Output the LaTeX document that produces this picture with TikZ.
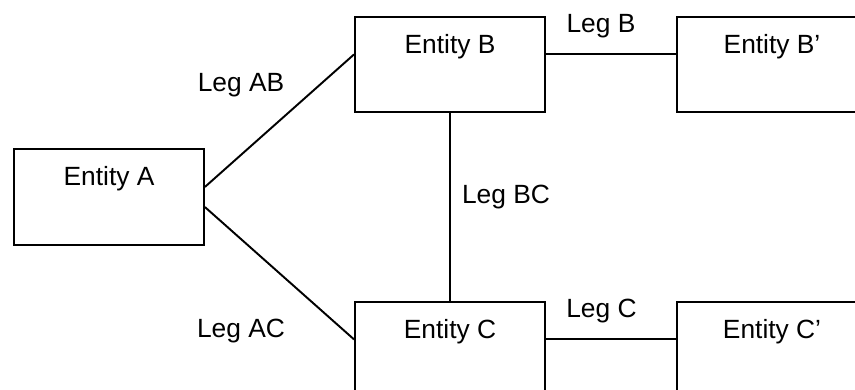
\documentclass[tikz,border=0pt]{standalone}
\usepackage{fontspec}
\setmainfont{Liberation Sans}
\begin{document}
\begin{tikzpicture}[
    entity/.style={rectangle,draw,line width=1.1pt,inner sep=0pt,minimum width=38mm,text height=7.3mm,text depth=11.8mm},
    leg/.style={line width=1.1pt},
    every node/.style={font=\fontsize{15}{18}\selectfont}
    ]
    \useasboundingbox (0, 0) rectangle (17.1, -7.8);
    \clip (0, 0) rectangle (17.1, -7.8);

    \node (entA) at (2.18, -3.94) [entity] {Entity A};
    \node (entB) at (9.0, -1.29) [entity] {Entity B};
    \node (entB2) at (15.44, -1.29) [entity] {Entity B’};
    \node (entC) at (9.0, -6.99) [entity] {Entity C};
    \node (entC2) at (15.44, -6.99) [entity] {Entity C’};
    \draw [leg] (entA.6) to node [xshift=-7.7mm, yshift=7.1mm] {Leg AB} (entB.174);
    \draw [leg] (entA.-6) to node [xshift=-7.7mm, yshift=-11.6mm] {Leg AC} (entC.174);
    \draw [leg] (entB.south) to node [xshift=11.2mm, yshift=1.9mm] {Leg BC} (entC.north);
    \draw [leg] (entB.6) to node [xshift=-2mm, yshift=5.7mm] {Leg B} (entB2.174);
    \draw [leg] (entC.6) to node [xshift=-1.9mm, yshift=5.7mm] {Leg C} (entC2.174);
  \end{tikzpicture}
\end{document}
